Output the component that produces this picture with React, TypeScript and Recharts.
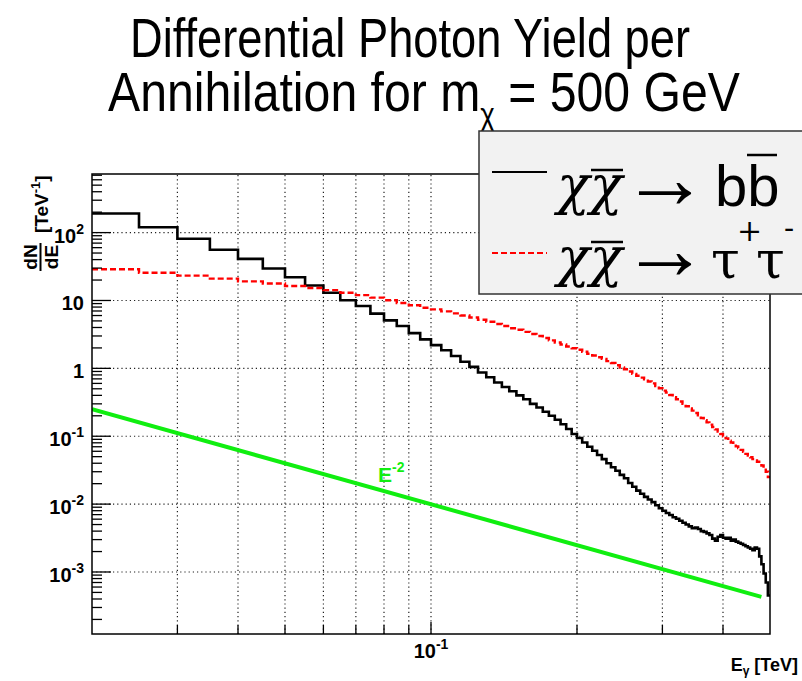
import { LineChart, Line, XAxis, YAxis, ReferenceLine } from 'recharts';

// histogram binning (TeV)
const BIN_START = 0.02;
const BIN_WIDTH = 0.005;
const E_MAX = 0.5;

// dN/dE per bin, chi chibar -> b bbar
const BB_YIELD = [
  191, 120, 81, 56, 41, 29.6, 22, 16.6, 13.0, 10.1,
  8.3, 6.4, 5.1, 4.2, 3.3, 2.67, 2.2, 1.85, 1.52, 1.25,
  1.05, 0.87, 0.74, 0.62, 0.53, 0.46, 0.40, 0.35, 0.30, 0.265,
  0.23, 0.20, 0.175, 0.15, 0.128, 0.108, 0.094, 0.081, 0.070, 0.061,
  0.053, 0.046, 0.040, 0.035, 0.031, 0.027, 0.024, 0.0205, 0.018, 0.0158,
  0.0142, 0.0128, 0.0117, 0.0107, 0.0096, 0.0087, 0.0080, 0.0074, 0.0069, 0.0064,
  0.0061, 0.0057, 0.0053, 0.0050, 0.0047, 0.0044, 0.0045, 0.0043, 0.0040, 0.0039,
  0.0037, 0.0035, 0.0031, 0.0029, 0.0033, 0.0035, 0.0032, 0.0031, 0.0032, 0.0029,
  0.0030, 0.0028, 0.0027, 0.0026, 0.0025, 0.0024, 0.0023, 0.0022, 0.0021, 0.0023,
  0.0022, 0.0017, 0.0013, 0.00095, 0.0007, 0.00045,
];

// dN/dE per bin, chi chibar -> tau+ tau-
const TAU_YIELD = [
  28.8, 25.6, 23.2, 21.0, 19.1, 17.8, 16.3, 15.3, 14.2, 13.0,
  12.0, 11.0, 10.1, 9.2, 8.5, 7.8, 7.4, 6.9, 6.45, 6.0,
  5.6, 5.2, 4.85, 4.5, 4.2, 3.9, 3.7, 3.45, 3.2, 3.0,
  2.8, 2.58, 2.4, 2.25, 2.1, 1.98, 1.88, 1.76, 1.64, 1.55,
  1.46, 1.38, 1.28, 1.2, 1.11, 1.03, 0.97, 0.9, 0.83, 0.78,
  0.73, 0.69, 0.64, 0.6, 0.55, 0.51, 0.47, 0.44, 0.405, 0.375,
  0.35, 0.325, 0.30, 0.277, 0.257, 0.238, 0.22, 0.203, 0.186, 0.172,
  0.16, 0.148, 0.137, 0.126, 0.117, 0.108, 0.1, 0.093, 0.086, 0.081,
  0.076, 0.071, 0.067, 0.063, 0.059, 0.055, 0.052, 0.049, 0.046, 0.044,
  0.042, 0.04, 0.037, 0.034, 0.03, 0.025,
];

// E^-2 reference line end points
const REF_E = [0.02, 0.48];
const REF_YIELD = [0.25, 0.00043];

const X_GRID = [0.03, 0.04, 0.05, 0.06, 0.07, 0.08, 0.09, 0.1, 0.2, 0.3, 0.4];
const Y_DECADES = [1e-3, 1e-2, 1e-1, 1, 10, 100];
const Y_LABELS = [
  { base: '10', exp: '-3' },
  { base: '10', exp: '-2' },
  { base: '10', exp: '-1' },
  { base: '1', exp: '' },
  { base: '10', exp: '' },
  { base: '10', exp: '2' },
];

const X_DOMAIN = [0.02, 0.5];
const Y_DOMAIN = [1.22e-4, 730];

const W = 802;
const H = 681;
const PLOT = { left: 92, top: 174, right: 770, bottom: 634 };
const Y_AXIS_W = 70;
const X_AXIS_H = 30;

const SANS = "'Liberation Sans', Arial, Helvetica, sans-serif";
const SERIF = "'Liberation Serif', 'DejaVu Serif', 'Times New Roman', serif";
const GREEK = "'DejaVu Serif', 'Liberation Serif', serif";
const GREEN = '#10ee10';

const spectrum = BB_YIELD.map((bb, i) => ({
  e: BIN_START + i * BIN_WIDTH,
  bb,
  tau: TAU_YIELD[i],
}));
// close the last bin at the upper edge
spectrum.push({ e: E_MAX, bb: BB_YIELD[BB_YIELD.length - 1], tau: TAU_YIELD[TAU_YIELD.length - 1] });

const powerLaw = REF_E.map((e, i) => ({ e, ref: REF_YIELD[i] }));

// log axis ticks: decades plus 2..9 minor marks
const yTicks: number[] = [];
for (let p = -4; p <= 2; p++) {
  for (let m = 1; m <= 9; m++) {
    const v = m * Math.pow(10, p);
    if (v >= Y_DOMAIN[0] && v <= Y_DOMAIN[1]) yTicks.push(v);
  }
}

const isDecade = (v: number) => Math.abs(Math.log10(v) - Math.round(Math.log10(v))) < 1e-6;

function YTick(props: any) {
  const { y, payload } = props;
  const v = payload.value as number;
  const major = isDecade(v);
  const idx = Y_DECADES.findIndex((d) => Math.abs(Math.log10(d) - Math.log10(v)) < 1e-6);
  const lab = idx >= 0 ? Y_LABELS[idx] : null;
  return (
    <g>
      <line x1={PLOT.left} x2={PLOT.left + (major ? 19 : 10)} y1={y} y2={y} stroke="#000" strokeWidth={1.3} />
      {lab && (
        <text x={84} y={y + 10} textAnchor="end" fontFamily={SANS} fontWeight="bold" fontSize={20} fill="#000">
          {lab.base}
          {lab.exp && (
            <tspan dy={-9} fontSize={14}>
              {lab.exp}
            </tspan>
          )}
        </text>
      )}
    </g>
  );
}

function XTick(props: any) {
  const { x, payload } = props;
  const v = payload.value as number;
  return (
    <g>
      <line x1={x} x2={x} y1={PLOT.bottom} y2={PLOT.bottom - (v === 0.1 ? 12 : 9)} stroke="#000" strokeWidth={1.3} />
      {v === 0.1 && (
        <text x={x} y={658} textAnchor="middle" fontFamily={SANS} fontWeight="bold" fontSize={20} fill="#000">
          10
          <tspan dy={-9} fontSize={14}>
            -1
          </tspan>
        </text>
      )}
    </g>
  );
}

export default function App() {
  return (
    <div style={{ position: 'absolute', left: 0, top: 0, width: W, height: H, background: '#fff' }}>
      <LineChart
        width={W}
        height={H}
        data={spectrum}
        margin={{
          top: PLOT.top,
          right: W - PLOT.right,
          bottom: H - PLOT.bottom - X_AXIS_H,
          left: PLOT.left - Y_AXIS_W,
        }}
      >
        <XAxis
          dataKey="e"
          type="number"
          scale="log"
          domain={X_DOMAIN}
          allowDataOverflow
          ticks={X_GRID}
          interval={0}
          tick={<XTick />}
          tickLine={false}
          axisLine={false}
          height={X_AXIS_H}
        />
        <YAxis
          type="number"
          scale="log"
          domain={Y_DOMAIN}
          allowDataOverflow
          ticks={yTicks}
          interval={0}
          tick={<YTick />}
          tickLine={false}
          axisLine={false}
          width={Y_AXIS_W}
        />
        {X_GRID.map((v) => (
          <ReferenceLine key={`gx-${v}`} x={v} stroke="#222" strokeWidth={1.2} strokeDasharray="1.2 3" />
        ))}
        {Y_DECADES.map((v) => (
          <ReferenceLine key={`gy-${v}`} y={v} stroke="#222" strokeWidth={1.2} strokeDasharray="1.2 3" />
        ))}
        <Line dataKey="bb" type="stepAfter" stroke="#000" strokeWidth={2.6} dot={false} isAnimationActive={false} />
        <Line
          dataKey="tau"
          type="stepAfter"
          stroke="#ff0000"
          strokeWidth={2.4}
          strokeDasharray="6 3"
          dot={false}
          isAnimationActive={false}
        />
        <Line data={powerLaw} dataKey="ref" type="linear" stroke={GREEN} strokeWidth={4} dot={false} isAnimationActive={false} />
      </LineChart>

      <svg width={W} height={H} style={{ position: 'absolute', left: 0, top: 0, pointerEvents: 'none' }}>
        {/* frame */}
        <rect
          x={PLOT.left}
          y={PLOT.top}
          width={PLOT.right - PLOT.left}
          height={PLOT.bottom - PLOT.top}
          fill="none"
          stroke="#000"
          strokeWidth={1.5}
        />

        {/* title */}
        <text x={130} y={57} fontFamily={SANS} fontSize={56} textLength={560} lengthAdjust="spacingAndGlyphs" fill="#000">
          Differential Photon Yield per
        </text>
        <text x={108} y={111} fontFamily={SANS} fontSize={56} fill="#000" textLength={632} lengthAdjust="spacingAndGlyphs">
          Annihilation for m
          <tspan dy={14} fontSize={32}>
            χ
          </tspan>
          <tspan dy={-14}> = 500 GeV</tspan>
        </text>

        {/* y title */}
        <g transform="translate(48,233) rotate(-90)">
          <text x={0} y={0} fontFamily={SANS} fontWeight="bold" fontSize={19} fill="#000">
            [TeV
            <tspan dy={-8} fontSize={13}>
              -1
            </tspan>
            <tspan dy={8}>]</tspan>
          </text>
        </g>
        <g transform="translate(37,257) rotate(-90)">
          <text x={0} y={0} textAnchor="middle" fontFamily={SANS} fontWeight="bold" fontSize={19} fill="#000">
            dN
          </text>
        </g>
        <line x1={40.5} x2={40.5} y1={243} y2={271} stroke="#000" strokeWidth={2} />
        <g transform="translate(58,257) rotate(-90)">
          <text x={0} y={0} textAnchor="middle" fontFamily={SANS} fontWeight="bold" fontSize={19} fill="#000">
            dE
          </text>
        </g>

        {/* x title */}
        <text x={798} y={671} textAnchor="end" fontFamily={SANS} fontWeight="bold" fontSize={18} fill="#000">
          E
          <tspan dy={4} fontSize={12}>
            γ
          </tspan>
          <tspan dy={-4}> [TeV]</tspan>
        </text>

        {/* power-law label */}
        <text x={378} y={482} fontFamily={SANS} fontWeight="bold" fontSize={21} fill={GREEN}>
          E
          <tspan dy={-10} fontSize={14}>
            -2
          </tspan>
        </text>

        {/* legend */}
        <rect x={479} y={131} width={340} height={163} fill="#f2f2f2" stroke="#333" strokeWidth={1.5} />
        <line x1={492} x2={547} y1={172} y2={172} stroke="#000" strokeWidth={2} />
        <text x={557} y={204} fontFamily={GREEK} fontStyle="italic" fontSize={54} fill="#000">
          χχ
        </text>
        <line x1={591} x2={623} y1={170} y2={170} stroke="#000" strokeWidth={2.5} />
        <text x={621} y={208} fontFamily={SERIF} fontSize={88} fill="#000">
          →
        </text>
        <text x={715} y={206} fontFamily={SANS} fontSize={58} fill="#000">
          bb
        </text>
        <line x1={747} x2={777} y1={155} y2={155} stroke="#000" strokeWidth={2.5} />

        <line x1={492} x2={547} y1={253} y2={253} stroke="#ff0000" strokeWidth={2.2} strokeDasharray="6 3" />
        <text x={557} y={276} fontFamily={GREEK} fontStyle="italic" fontSize={54} fill="#000">
          χχ
        </text>
        <line x1={591} x2={623} y1={242} y2={242} stroke="#000" strokeWidth={2.5} />
        <text x={621} y={279} fontFamily={SERIF} fontSize={88} fill="#000">
          →
        </text>
        <text x={711} y={278} fontFamily={GREEK} fontSize={52} fill="#000">
          τ
        </text>
        <text x={737} y={241} fontFamily={GREEK} fontSize={30} fill="#000">
          +
        </text>
        <text x={756} y={278} fontFamily={GREEK} fontSize={52} fill="#000">
          τ
        </text>
        <text x={784} y={238} fontFamily={GREEK} fontSize={30} fill="#000">
          -
        </text>
      </svg>
    </div>
  );
}
